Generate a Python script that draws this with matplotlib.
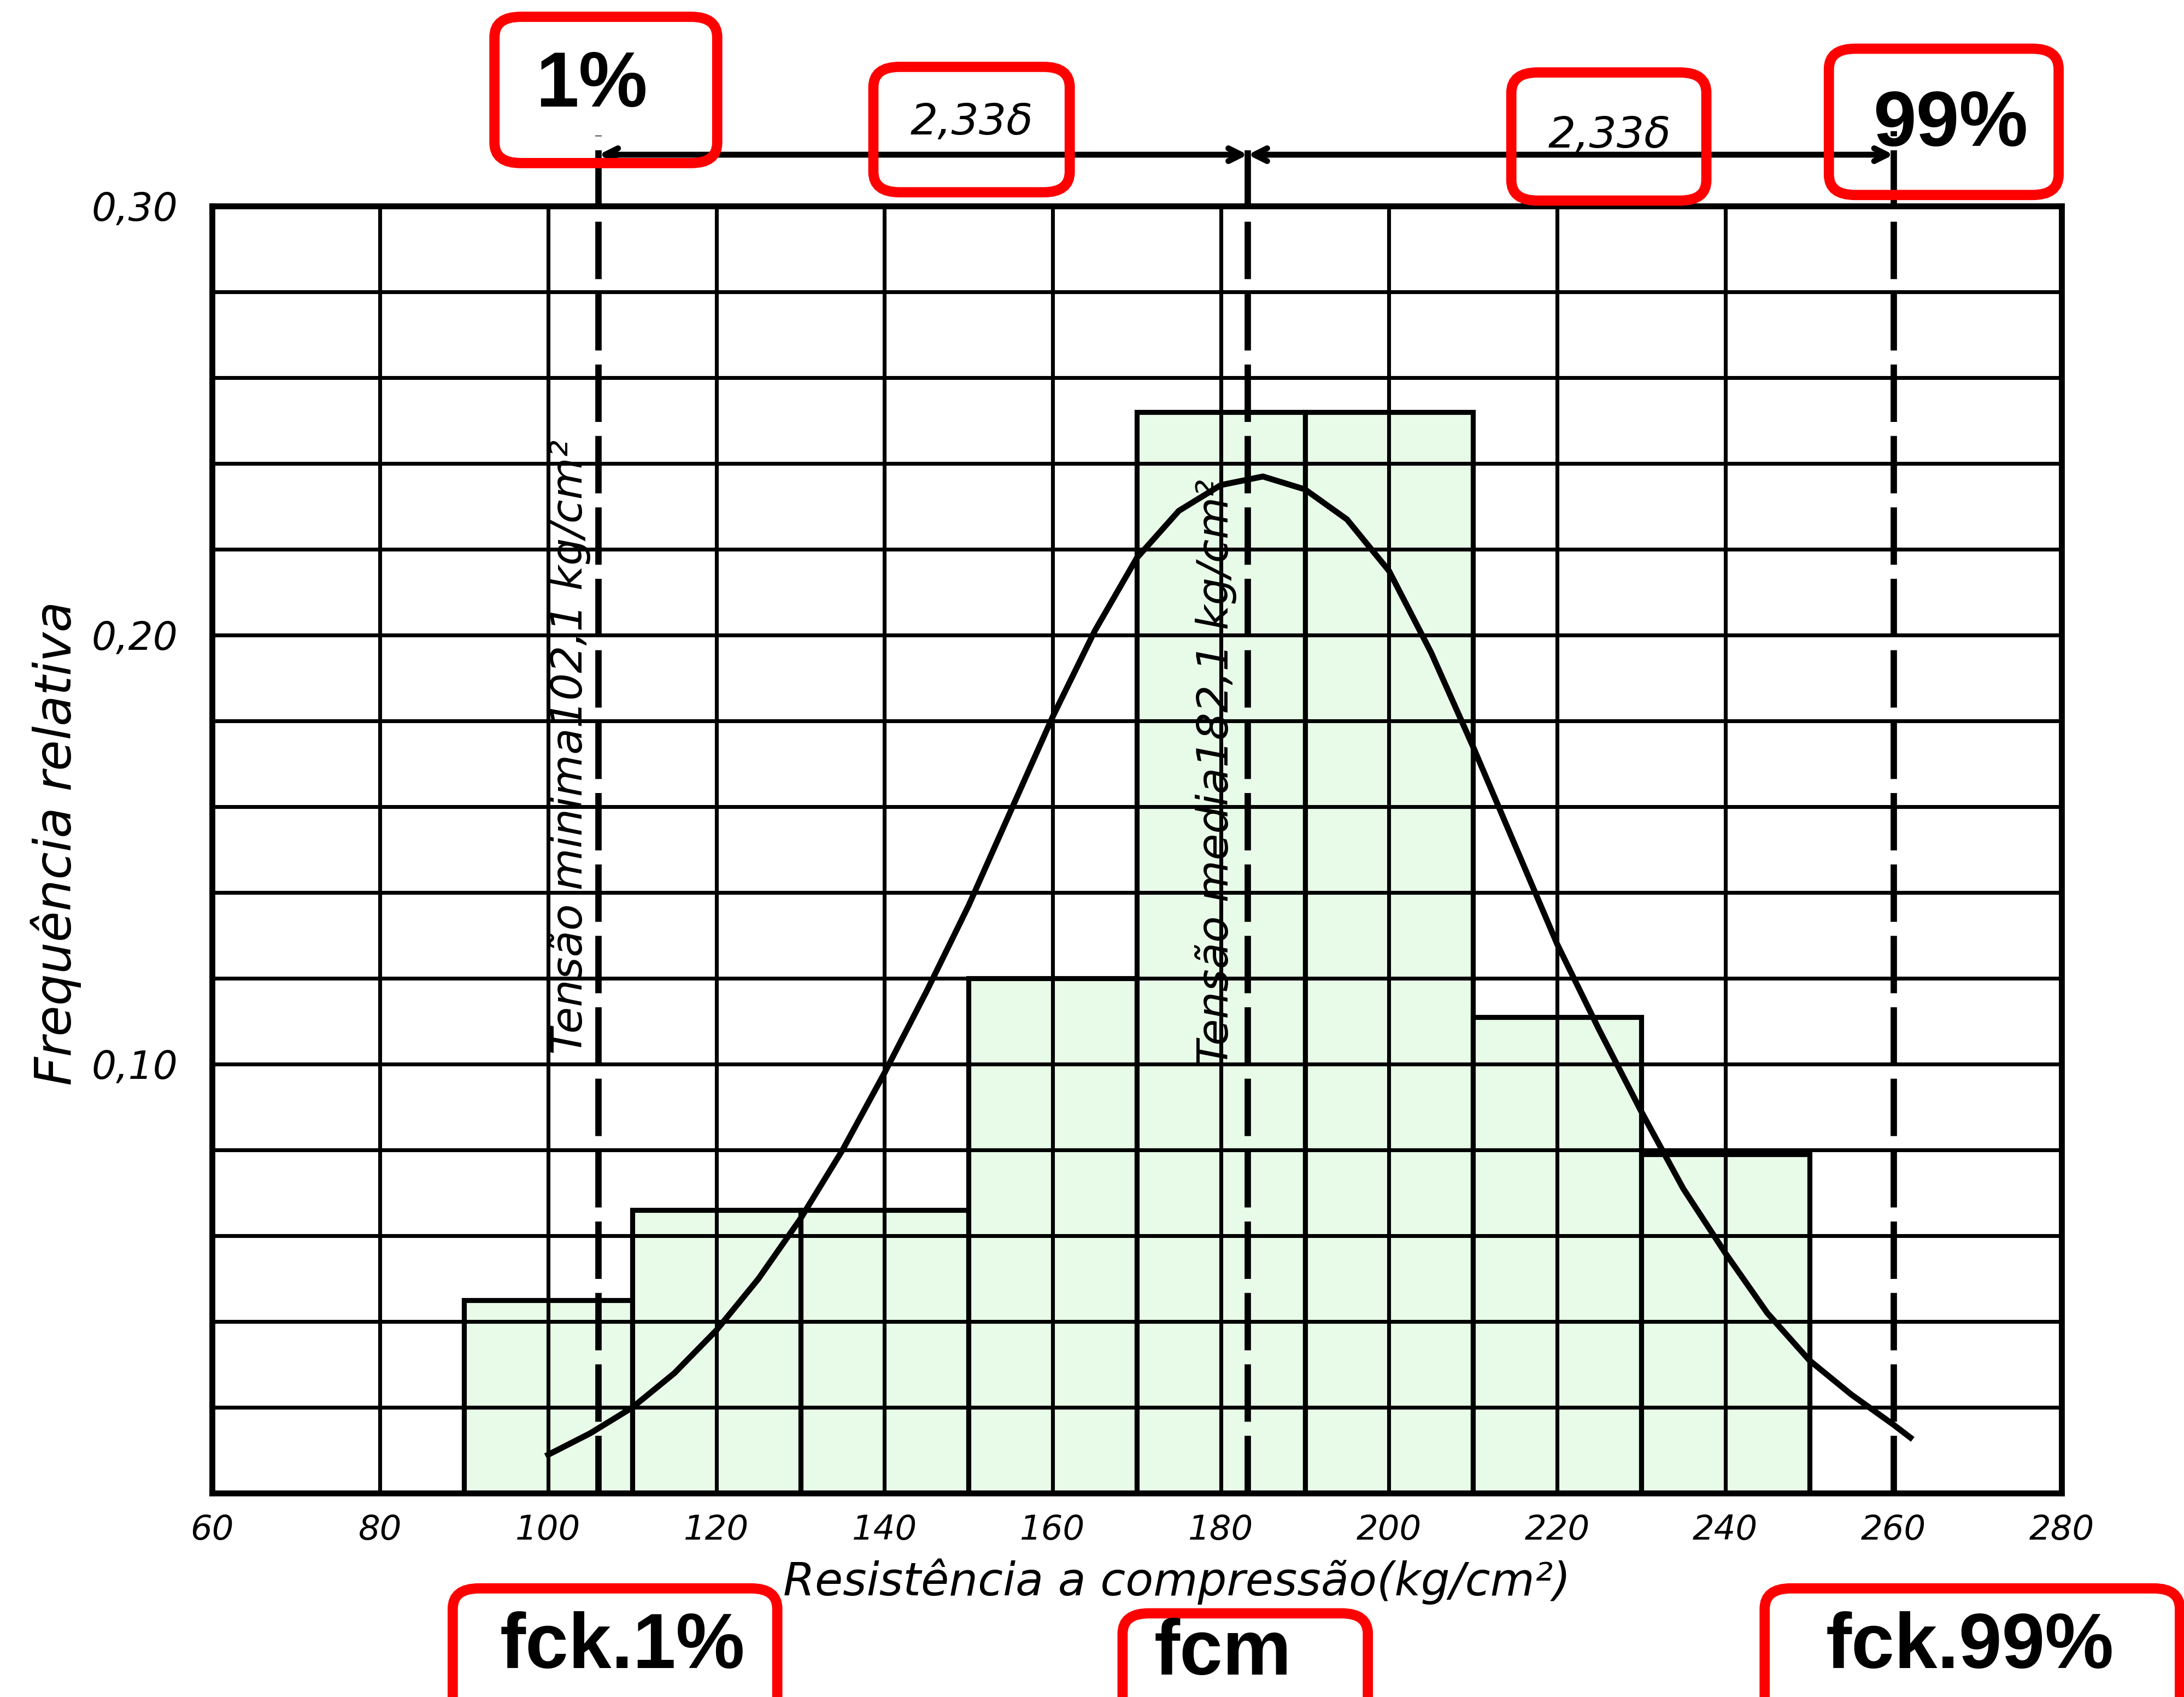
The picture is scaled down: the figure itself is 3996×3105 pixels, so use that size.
import numpy as np
import matplotlib.pyplot as plt
from matplotlib.patches import FancyBboxPatch

# histograma (classes de 20 kg/cm2)
bin_left = [90, 110, 130, 150, 170, 190, 210, 230]
bin_width = 20
freq = [0.045, 0.066, 0.066, 0.120, 0.252, 0.252, 0.111, 0.079]

# curva normal
curve_x = [100, 105, 110, 115, 120, 125, 130, 135, 140, 145, 150, 155, 160, 165,
           170, 175, 180, 185, 190, 195, 200, 205, 210, 215, 220, 225, 230, 235,
           240, 245, 250, 255, 260, 262]
curve_y = [0.009, 0.014, 0.020, 0.028, 0.038, 0.050, 0.064, 0.080, 0.098, 0.117,
           0.137, 0.159, 0.181, 0.201, 0.218, 0.229, 0.235, 0.237, 0.234, 0.227,
           0.215, 0.196, 0.174, 0.151, 0.128, 0.108, 0.089, 0.071, 0.056, 0.042,
           0.031, 0.023, 0.016, 0.013]

fck_1 = 106.0
fcm = 183.2
fck_99 = 260.0

x_ticks = [60, 80, 100, 120, 140, 160, 180, 200, 220, 240, 260, 280]
y_ticks = [0.10, 0.20, 0.30]
y_tick_labels = ['0,10', '0,20', '0,30']

HAND = ['DejaVu Sans']
BOLD = ['Liberation Sans', 'DejaVu Sans']

fig = plt.figure(figsize=(13.32, 10.35), dpi=300)
ax = fig.add_axes([0.097, 0.120, 0.847, 0.7585])

ax.bar(bin_left, freq, width=bin_width, align='edge', color='#e8fbe8',
       edgecolor='black', linewidth=2.2, zorder=1)

# grade
for gx in x_ticks[1:-1]:
    if gx == fck_99:
        continue
    ax.axvline(gx, color='black', lw=1.7, zorder=2)
for gy in np.arange(0.02, 0.30, 0.02):
    ax.axhline(gy, color='black', lw=1.7, zorder=2)

ax.plot(curve_x, curve_y, color='black', lw=2.6, zorder=4)

# linhas tracejadas
for xv, top in [(fck_1, 0.3165), (fcm, 0.315), (fck_99, 0.3175)]:
    ax.plot([xv, xv], [0, top], color='black', lw=2.8, dashes=(9, 2.2),
            clip_on=False, zorder=3)

# cota 2,33 sigma
for a, b in [(fck_1, fcm), (fcm, fck_99)]:
    ax.annotate('', xy=(a, 0.312), xytext=(b, 0.312),
                arrowprops=dict(arrowstyle='<->', lw=2.6, color='black',
                                mutation_scale=14, shrinkA=0, shrinkB=0),
                annotation_clip=False)

ax.text(102.6, 0.174, 'Tensão minima102,1 kg/cm²', rotation=90, ha='center',
        va='center', fontsize=19, style='italic', family=HAND, zorder=5)
ax.text(179.4, 0.168, 'Tensão media182,1 kg/cm²', rotation=90, ha='center',
        va='center', fontsize=19, style='italic', family=HAND, zorder=5)

ax.set_xlim(60, 280)
ax.set_ylim(0, 0.30)
ax.set_xticks(x_ticks)
ax.set_xticklabels([str(v) for v in x_ticks], fontsize=15, style='italic',
                   family=HAND)
ax.set_yticks(y_ticks)
ax.set_yticklabels(y_tick_labels, fontsize=17, style='italic', family=HAND)
ax.tick_params(axis='x', length=0, pad=9)
ax.tick_params(axis='y', length=0, pad=15)
for sp in ax.spines.values():
    sp.set_linewidth(2.6)

fig.text(0.0255, 0.503, 'Frequência relativa', rotation=90, ha='center',
         va='center', fontsize=22, style='italic', family=HAND)
fig.text(0.539, 0.068, 'Resistência a compressão(kg/cm²)', ha='center',
         va='center', fontsize=20, style='italic', family=HAND)

# caixas vermelhas
boxes = [
    ('1%', 0.2264, 0.3284, 0.9039, 0.9901, 0.271, 0.949, 'bold'),
    ('2,33δ', 0.3999, 0.4898, 0.8867, 0.9606, 0.445, 0.928, 'it'),
    ('2,33δ', 0.6920, 0.7813, 0.8818, 0.9573, 0.737, 0.920, 'it'),
    ('99%', 0.8374, 0.9426, 0.8851, 0.9713, 0.893, 0.926, 'bold'),
    ('fck.1%', 0.2073, 0.3559, -0.05, 0.0640, 0.285, 0.029, 'bold'),
    ('fcm', 0.5140, 0.6263, -0.05, 0.0493, 0.560, 0.025, 'bold'),
    ('fck.99%', 0.8080, 0.9981, -0.05, 0.0640, 0.902, 0.029, 'bold'),
]
for label, x0, x1, y0, y1, tx, ty, kind in boxes:
    fig.patches.append(FancyBboxPatch((x0, y0), x1 - x0, y1 - y0,
                                      boxstyle='round,pad=0,rounding_size=0.012',
                                      transform=fig.transFigure, fill=False,
                                      edgecolor='red', linewidth=4.5))
    if kind == 'bold':
        fig.text(tx, ty, label, ha='center', va='center', fontsize=34,
                 fontweight='bold', family=BOLD)
    else:
        fig.text(tx, ty, label, ha='center', va='center', fontsize=19,
                 style='italic', family=HAND)

fig.savefig('out.png', dpi=300)
